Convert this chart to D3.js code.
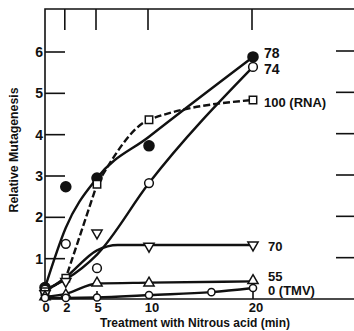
<!DOCTYPE html>
<html>
<head>
<meta charset="utf-8">
<script src="https://cdn.jsdelivr.net/npm/d3@7"></script>
<style>
  html, body { margin: 0; background: #fff; overflow: hidden; }
  svg { display: block; }
  text { font-family: "Liberation Sans", Arial, sans-serif; font-weight: bold; fill: #111; }
</style>
</head>
<body>
<div id="chart"></div>
<script>
// Time of treatment (min)
var times = [0, 2, 5, 10, 20];
var tmvTimes = [0, 2, 5, 10, 16, 20];

// Measured points (markers)
var pts78 = [0.3, 2.74, 2.95, 3.73, 5.88];
var pts74 = [0.25, 1.36, 0.77, 2.83, 5.64];
var ptsRNA = [0.2, 0.53, 2.8, 4.36, 4.84];
var pts70 = [0.15, 0.45, 1.62, 1.3, 1.33];
var pts55 = [0.08, 0.12, 0.41, 0.41, 0.47];
var ptsTMV = [0.05, 0.05, 0.06, 0.12, 0.19, 0.29];

// Hand drawn curves through the points
var curve78 = [0.3, 1.75, 2.95, 3.95, 5.88];
var curve74 = [0.25, 0.5, 1.1, 2.83, 5.64];
var curveRNA = [0.2, 0.53, 2.8, 4.36, 4.84];
var times70 = [0, 2, 5, 7, 10, 20];
var curve70 = [0.2, 0.55, 1.2, 1.33, 1.33, 1.33];
var curve55 = [0.08, 0.15, 0.4, 0.42, 0.45];

// Ticks and labels
var xTicks = [0, 2, 5, 10, 20];
var yTicks = [1, 2, 3, 4, 5, 6];
var seriesNames = ["78", "74", "100 (RNA)", "70", "55", "0 (TMV)"];
var labelValues = [5.98, 5.6, 4.8, 1.3, 0.58, 0.24];

var svgWidth = 354, svgHeight = 331;

var svg = d3.select("#chart")
            .append("svg")
            .attr("width", svgWidth)
            .attr("height", svgHeight);

var x = d3.scaleLinear().domain([0, 20]).range([45, 253]);
var y = d3.scaleLinear().domain([0, 6]).range([300, 52]);

var frameTop = 9, frameRight = 354, frameBottom = 299;

// frame: left axis, top border, bottom axis
svg.append("path")
   .attr("d", `M${frameRight},${frameTop}H45V${frameBottom}H${frameRight}`)
   .attr("fill", "none")
   .attr("stroke", "#111")
   .attr("stroke-width", 1.6);

// left and right ticks + labels
yTicks.forEach(function(v){
    svg.append("line")
       .attr("x1", 45).attr("x2", 65)
       .attr("y1", y(v)).attr("y2", y(v))
       .attr("stroke", "#111").attr("stroke-width", 1.6);
    svg.append("line")
       .attr("x1", 336).attr("x2", frameRight)
       .attr("y1", y(v) - 1).attr("y2", y(v) - 1)
       .attr("stroke", "#111").attr("stroke-width", 1.6);
    svg.append("text")
       .attr("x", 43).attr("y", y(v) + 5)
       .attr("text-anchor", "end")
       .style("font-size", "14px")
       .text(v);
});

// top ticks and bottom ticks / labels
xTicks.forEach(function(t){
    if (t > 0) {
        svg.append("line")
           .attr("x1", x(t) - 1).attr("x2", x(t) - 1)
           .attr("y1", frameTop).attr("y2", 30)
           .attr("stroke", "#111").attr("stroke-width", 1.6);
        svg.append("line")
           .attr("x1", x(t)).attr("x2", x(t))
           .attr("y1", frameBottom).attr("y2", frameBottom - 8)
           .attr("stroke", "#111").attr("stroke-width", 1.6);
    }
    svg.append("text")
       .attr("x", x(t) + (t >= 10 ? 3 : 1)).attr("y", 312)
       .attr("text-anchor", "middle")
       .style("font-size", "13px")
       .text(t);
});

// axis titles
svg.append("text")
   .attr("x", 195).attr("y", 327)
   .attr("text-anchor", "middle")
   .attr("textLength", 190)
   .attr("lengthAdjust", "spacingAndGlyphs")
   .style("font-size", "12px")
   .text("Treatment with Nitrous acid (min)");

svg.append("text")
   .attr("transform", "translate(18,150) rotate(-90)")
   .attr("text-anchor", "middle")
   .attr("textLength", 125)
   .attr("lengthAdjust", "spacingAndGlyphs")
   .style("font-size", "12px")
   .text("Relative Mutagenesis");

// curves
var smooth = d3.line()
    .x(d => x(d[0]))
    .y(d => y(d[1]))
    .curve(d3.curveMonotoneX);

var straight = d3.line()
    .x(d => x(d[0]))
    .y(d => y(d[1]));

function zip(ts, vs) { return ts.map((t, i) => [t, vs[i]]); }

var rna = zip(times, curveRNA);

var curves = [
    { d: zip(times, curve78), dash: null, gen: smooth },
    { d: zip(times, curve74), dash: null, gen: smooth },
    { d: rna.slice(0, 3), dash: "7,3", gen: straight },   // steep dashed rise
    { d: rna.slice(2), dash: "7,3", gen: smooth },        // arc then levelling off
    { d: zip(times70, curve70), dash: null, gen: smooth },
    { d: zip(times, curve55), dash: null, gen: smooth },
    { d: zip(tmvTimes, ptsTMV), dash: null, gen: smooth }
];

svg.selectAll(".curve")
   .data(curves)
   .enter()
   .append("path")
   .classed("curve", true)
   .attr("d", c => c.gen(c.d))
   .attr("fill", "none")
   .attr("stroke", "#111")
   .attr("stroke-width", 2.4)
   .attr("stroke-dasharray", c => c.dash);

// markers
var markerSets = [
    { d: zip(times, pts78), type: d3.symbolCircle, size: 80, fill: "#111", rot: 0 },
    { d: zip(times, pts74), type: d3.symbolCircle, size: 60, fill: "#fff", rot: 0 },
    { d: zip(times, ptsRNA), type: d3.symbolSquare, size: 55, fill: "#fff", rot: 0 },
    { d: zip(times, pts70), type: d3.symbolTriangle, size: 45, fill: "#fff", rot: 180 },
    { d: zip(times, pts55), type: d3.symbolTriangle, size: 45, fill: "#fff", rot: 0 },
    { d: zip(tmvTimes, ptsTMV), type: d3.symbolCircle, size: 40, fill: "#fff", rot: 0 }
];

markerSets.forEach(function(s){
    svg.selectAll(null)
       .data(s.d)
       .enter()
       .append("path")
       .attr("d", d3.symbol().type(s.type).size(s.size))
       .attr("transform", d => `translate(${x(d[0])},${y(d[1])}) rotate(${s.rot})`)
       .attr("fill", s.fill)
       .attr("stroke", "#111")
       .attr("stroke-width", 1.5);
});

// series labels on the right
svg.selectAll(".series-label")
   .data(seriesNames)
   .enter()
   .append("text")
   .classed("series-label", true)
   .attr("x", (d, i) => i < 3 ? 264 : 268)
   .attr("y", (d, i) => y(labelValues[i]) + 5)
   .style("font-size", (d, i) => i < 2 ? "14px" : "13px")
   .text(d => d);
</script>
</body>
</html>
